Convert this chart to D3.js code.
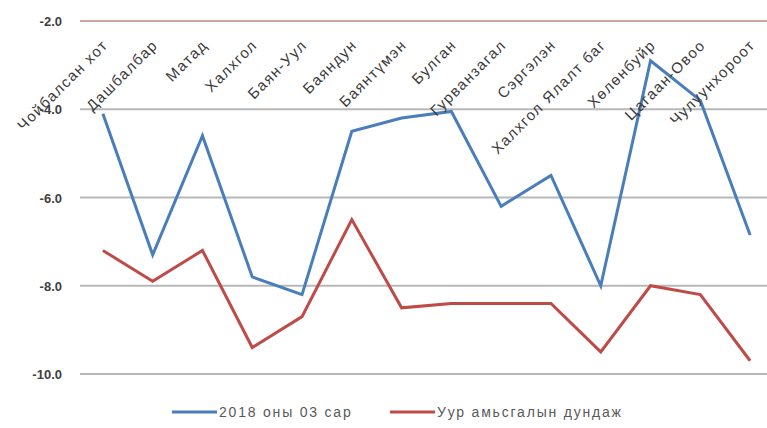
<!DOCTYPE html>
<html>
<head>
<meta charset="utf-8">
<script src="https://cdn.jsdelivr.net/npm/d3@7"></script>
<style>
  body { margin: 0; background: #fff; }
  text { font-family: "Liberation Sans", Arial, sans-serif; }
</style>
</head>
<body>
<svg class="chart"></svg>
<script>
var svgWidth = 767, svgHeight = 428;

var categories = ['Чойбалсан хот', 'Дашбалбар', 'Матад', 'Халхгол', 'Баян-Уул', 'Баяндун',
  'Баянтүмэн', 'Булган', 'Гурванзагал', 'Сэргэлэн', 'Халхгол Ялалт баг', 'Хөлөнбуйр',
  'Цагаан-Овоо', 'Чулуунхороот'];
var march2018 = [-4.1, -7.3, -4.6, -7.8, -8.2, -4.5, -4.2, -4.05, -6.2, -5.5, -8.0, -2.9, -3.8, -6.85];
var climateAvg = [-7.2, -7.9, -7.2, -9.4, -8.7, -6.5, -8.5, -8.4, -8.4, -8.4, -9.5, -8.0, -8.2, -9.7];
var yTicks = [-2, -4, -6, -8, -10];
var seriesNames = ['2018 оны 03 сар', 'Уур амьсгалын дундаж'];
var seriesColors = ['#4a7ebb', '#be4b48'];

var series = [march2018, climateAvg];

var svg = d3.select('svg.chart').attr('width', svgWidth).attr('height', svgHeight);

var x = d3.scalePoint()
    .domain(categories)
    .range([78, 775])
    .padding(0.5);

var y = d3.scaleLinear()
    .domain([-10, -2])
    .range([374, 21]);

// gridlines
svg.append('g')
    .selectAll('line')
    .data(yTicks)
    .enter()
    .append('line')
    .attr('x1', 80)
    .attr('x2', 767)
    .attr('y1', function(d) { return y(d); })
    .attr('y2', function(d) { return y(d); })
    .attr('stroke', function(d) { return d === -2 ? '#caa6a6' : '#b8b8b8'; })
    .attr('stroke-width', 2);

// y labels
svg.append('g')
    .selectAll('text')
    .data(yTicks)
    .enter()
    .append('text')
    .attr('x', 62)
    .attr('y', function(d) { return y(d) + 5; })
    .attr('text-anchor', 'end')
    .attr('font-size', 13)
    .attr('font-weight', 'bold')
    .attr('fill', '#404040')
    .text(function(d) { return d.toFixed(1); });

// lines
var line = d3.line()
    .x(function(d, i) { return x(categories[i]); })
    .y(function(d) { return y(d); });

svg.append('g')
    .selectAll('path')
    .data(series)
    .enter()
    .append('path')
    .attr('d', line)
    .attr('fill', 'none')
    .attr('stroke', function(d, i) { return seriesColors[i]; })
    .attr('stroke-width', 3)
    .attr('stroke-linejoin', 'miter');

// category labels, rotated
svg.append('g')
    .selectAll('text')
    .data(categories)
    .enter()
    .append('text')
    .attr('transform', function(d) { return 'translate(' + (x(d) + 6) + ',46) rotate(-45)'; })
    .attr('text-anchor', 'end')
    .attr('font-size', 15)
    .attr('letter-spacing', 1.4)
    .attr('fill', '#3a3a3a')
    .text(function(d) { return d; });

// legend
var legendX = [172, 390];
var legend = svg.append('g')
    .selectAll('g')
    .data(seriesNames)
    .enter()
    .append('g')
    .attr('transform', function(d, i) { return 'translate(' + legendX[i] + ',412)'; });

legend.append('line')
    .attr('x1', 0).attr('x2', 45)
    .attr('stroke', function(d, i) { return seriesColors[i]; })
    .attr('stroke-width', 3);

legend.append('text')
    .attr('x', 47)
    .attr('y', 5)
    .attr('font-size', 14)
    .attr('letter-spacing', 1.8)
    .attr('fill', '#595959')
    .text(function(d) { return d; });
</script>
</body>
</html>
